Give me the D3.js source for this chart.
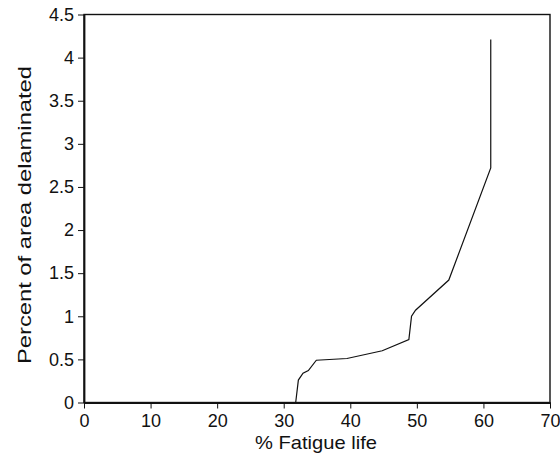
<!DOCTYPE html>
<html>
<head>
<meta charset="utf-8">
<script src="https://cdn.jsdelivr.net/npm/d3@7"></script>
<style>
  body { margin: 0; background: #fff; }
  text { font-family: "Liberation Sans", Arial, sans-serif; fill: #111; }
</style>
</head>
<body>
<div id="chart"></div>
<script>
// % fatigue life vs percent of area delaminated
const fatigueLife = [0, 31.8, 32.2, 32.9, 33.7, 34.9, 39.5, 44.8, 48.8, 49.2, 49.8, 54.8, 61.1, 61.1];
const delaminated = [0, 0, 0.26, 0.34, 0.37, 0.49, 0.51, 0.60, 0.73, 1.00, 1.07, 1.42, 2.72, 4.21];
const xTicks = [0, 10, 20, 30, 40, 50, 60, 70];
const yTicks = [0, 0.5, 1, 1.5, 2, 2.5, 3, 3.5, 4, 4.5];

const W = 560, H = 460;
const margin = { top: 14.5, right: 10, bottom: 57.5, left: 84 };
const w = 550 - margin.left, h = H - margin.top - margin.bottom;

const svg = d3.select('#chart').append('svg')
  .attr('width', W)
  .attr('height', H);

const g = svg.append('g')
  .attr('transform', `translate(${margin.left},${margin.top})`);

const x = d3.scaleLinear().domain([0, 70]).range([0, w]);
const y = d3.scaleLinear().domain([0, 4.5]).range([h, 0]);

// frame
g.append('rect')
  .attr('width', w)
  .attr('height', h)
  .attr('fill', 'none')
  .attr('stroke', '#111')
  .attr('stroke-width', 1.4);

// axes
const xAxis = g.append('g')
  .attr('transform', `translate(0,${h})`)
  .call(d3.axisBottom(x).tickValues(xTicks).tickSize(6).tickPadding(6).tickSizeOuter(0));
const yAxis = g.append('g')
  .call(d3.axisLeft(y).tickValues(yTicks).tickSize(6).tickPadding(4).tickSizeOuter(0)
    .tickFormat(d3.format('')));

[xAxis, yAxis].forEach(a => {
  a.select('.domain').attr('stroke', '#111').attr('stroke-width', 1.8);
  a.selectAll('.tick line').attr('stroke', '#111').attr('stroke-width', 1);
  a.selectAll('.tick text')
    .attr('font-family', '"Liberation Sans", Arial, sans-serif')
    .attr('font-size', 18)
    .attr('fill', '#111');
});

// data line
const pts = fatigueLife.map((v, i) => [v, delaminated[i]]);
g.append('path')
  .datum(pts)
  .attr('fill', 'none')
  .attr('stroke', '#111')
  .attr('stroke-width', 1.2)
  .attr('d', d3.line().x(d => x(d[0])).y(d => y(d[1])));

// axis titles
svg.append('text')
  .attr('x', 316)
  .attr('y', 449)
  .attr('text-anchor', 'middle')
  .attr('font-size', 19)
  .attr('textLength', 122)
  .attr('lengthAdjust', 'spacingAndGlyphs')
  .text('% Fatigue life');

svg.append('text')
  .attr('transform', 'translate(31,215) rotate(-90)')
  .attr('text-anchor', 'middle')
  .attr('font-size', 18)
  .attr('textLength', 298)
  .attr('lengthAdjust', 'spacingAndGlyphs')
  .text('Percent of area delaminated');
</script>
</body>
</html>
